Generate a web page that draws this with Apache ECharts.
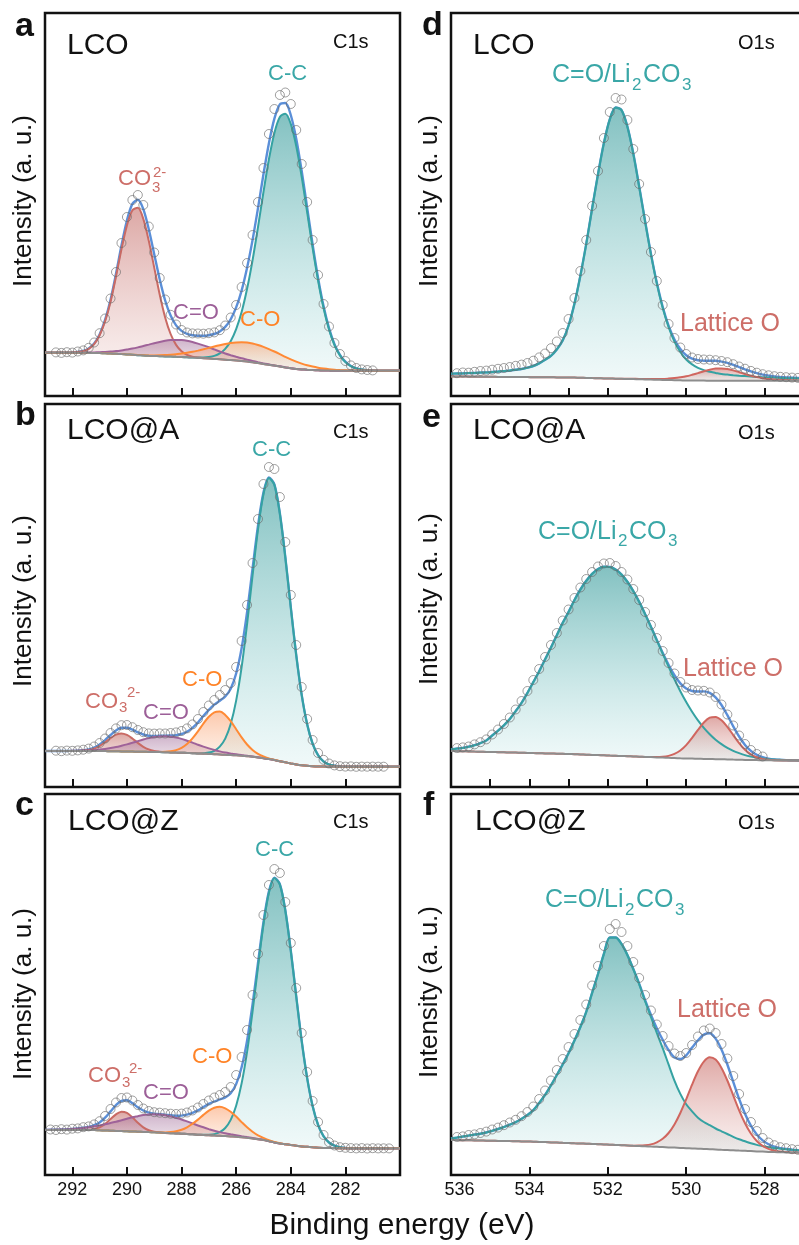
<!DOCTYPE html>
<html><head><meta charset="utf-8">
<script src="https://cdn.jsdelivr.net/npm/echarts@6/dist/echarts.min.js"></script>
<style>html,body{margin:0;padding:0;background:#fff;overflow:hidden}#c{width:860px;height:1245px}</style>
</head><body><div id="c"></div>
<script>
// ---------- x grids (binding energy, eV) ----------
const energyC = [293.0,292.8,292.6,292.4,292.2,292.0,291.8,291.6,291.4,291.2,291.0,290.8,290.6,290.4,290.2,290.0,289.8,289.6,289.4,289.2,289.0,288.8,288.6,288.4,288.2,288.0,287.8,287.6,287.4,287.2,287.0,286.8,286.6,286.4,286.2,286.0,285.8,285.6,285.4,285.2,285.0,284.8,284.6,284.4,284.2,284.0,283.8,283.6,283.4,283.2,283.0,282.8,282.6,282.4,282.2,282.0,281.8,281.6,281.4,281.2,281.0,280.8,280.6,280.4,280.2,280.0];
const energyO = [536.00,535.85,535.70,535.55,535.40,535.25,535.10,534.95,534.80,534.65,534.50,534.35,534.20,534.05,533.90,533.75,533.60,533.45,533.30,533.15,533.00,532.85,532.70,532.55,532.40,532.25,532.10,531.95,531.80,531.65,531.50,531.35,531.20,531.05,530.90,530.75,530.60,530.45,530.30,530.15,530.00,529.85,529.70,529.55,529.40,529.25,529.10,528.95,528.80,528.65,528.50,528.35,528.20,528.05,527.90,527.75,527.60,527.45,527.30,527.15,527.00];
const tickC = [292,290,288,286,284,282];
const tickO = [536,534,532,530,528];

// ---------- panel a : LCO C1s ----------
const aBg = [43.3,43.3,43.3,43.3,43.3,43.3, 43.3,43.2,43.1,43.0,42.9, 42.7,42.5,42.2,41.9,41.6, 41.2,40.8,40.5,40.2,40.0, 39.8,39.6,39.4,39.2,39.0, 38.7,38.4,38.1,37.8,37.5, 37.1,36.7,36.3,35.9,35.5, 35.0,34.4,33.7,32.9,32.0, 31.2,30.4,29.5,28.6,27.8, 27.1,26.6,26.2,25.9,25.7, 25.5,25.4, 25.3,25.3,25.3,25.3,25.3,25.3,25.3,25.3,25.3,25.3,25.3,25.3,25.3];
const aCO3 = [0,0,0,0,0,0, 0.7,1.7,4.1,8.9,17.8, 32,51.8,77.3,104.8,129, 144.6,147.4,136.6,115,88.4, 61.7,39,22.6,11.9,5.7, 2.5,1,0.3, 0,0,0,0,0,0,0,0,0,0, 0,0,0,0,0,0,0,0,0,0, 0,0,0,0,0,0,0,0,0,0, 0,0,0,0,0,0,0];
const aCeqO = [0,0,0,0,0, 0.1,0.15,0.24,0.4,0.6, 0.9,1.4,2.0,2.7,3.7, 4.9,6.2,7.8,9.5,11.2, 12.8,14.3,15.6,16.5,16.9, 16.9,16.5,15.6,14.3,12.8, 11.2,9.5,7.8,6.2,4.9, 3.7,2.7,2.0,1.4,0.9, 0.6,0.4,0.2,0.15,0.1, 0,0,0,0,0,0,0,0,0,0, 0,0,0,0,0,0,0,0,0,0, 0];
const aCO = [0,0,0,0,0,0,0,0,0,0, 0,0,0,0,0,0, 0.1,0.2,0.3,0.4,0.6, 0.9,1.3,1.9,2.6,3.5, 4.5,5.8,7.3,8.9,10.6, 12.4,14.1,15.7,17.1,18.1, 18.8,19,18.8,18.1,17.1, 15.7,14.1,12.4,10.6,8.9, 7.3,5.8,4.5,3.5,2.6, 1.9,1.3,0.9,0.6,0.4,0.2, 0,0,0,0,0,0,0,0,0];
const aCC = [0,0,0,0,0,0,0,0,0,0, 0,0,0,0,0,0,0,0,0,0, 0,0,0,0,0,0,0,0, 0.3,0.7,1.5, 3,5.9,10.9,18.8,31.3, 48.9,72.8,102,136,172, 205.5,232.7,249.6,253.7,244.3, 222.8,192.6,157.7,122.2,89.8, 62.5,41.2,25.7,15.3,8.6, 4.5,2.3,1.1,0.5,0.2, 0,0,0,0,0];
const aData = [null,null,43.6,43.1,43.8,43.4,44.5,45.6,48.2,53.5,62.8,77.5,97.5,124,153,179,196,201,191,169.5,143.5,118,96.5,81.2,71.5,66,63.5,62.6,62.5,62.3,62.8,63.6,65.8,70.5,78.5,91,109,133,161,194,228,262,287,301,303.5,292,266,232,194,156,121,92,69.5,53,42,35,30.6,28,26.6,26,25.6];

// ---------- panel b : LCO@A C1s ----------
const bBg = [36,36,36,36,36,36,36,36,36,36,36, 35.9,35.8,35.7,35.6,35.5, 35.4,35.3,35.2,35.1,35.0, 34.9,34.7,34.6,34.4,34.3, 34.0,33.8,33.5,33.3,33.0, 32.8,32.5,32.2,32.0,31.7, 31.3,30.8,30.3,29.6,28.8, 27.9,26.9,25.8,24.7,23.6, 22.6,21.8,21.2,20.8,20.5, 20.4, 20.3,20.3,20.3,20.3,20.3,20.3,20.3,20.3,20.3,20.3,20.3,20.3,20.3,20.3];
const bCO3 = [0,0,0,0,0,0, 0.1,0.4,1.0,2.4,5.0, 8.8,13.1,16.6,18,16.6, 13.1,8.8,5.0,2.4,1.0, 0.4,0.1, 0,0,0,0,0,0,0,0,0,0, 0,0,0,0,0,0,0,0,0,0, 0,0,0,0,0,0,0,0,0,0, 0,0,0,0,0,0,0,0,0,0, 0,0,0];
const bCeqO = [0,0,0,0, 0.07,0.13,0.2,0.4,0.6, 1.0,1.5,2.2,3.1,4.2, 5.6,7.1,8.8,10.6,12.3, 13.8,15.0,15.7,16,15.7, 15.0,13.8,12.3,10.6,8.8, 7.1,5.6,4.2,3.1,2.2, 1.5,1.0,0.6,0.4,0.2,0.13, 0,0,0,0,0,0,0,0,0,0, 0,0,0,0,0,0,0,0,0,0, 0,0,0,0,0,0];
const bCO = [0,0,0,0,0,0,0,0,0,0, 0,0,0,0,0,0,0,0,0,0, 0, 0.2,0.5,1.2,2.5,4.9, 9.0,14.8,22.1,30.1,37.2, 41.9,42.9,39.9,33.8,26.1, 18.3,11.7,6.8,3.6,1.7, 0.7,0.3, 0,0,0,0,0,0,0,0,0,0, 0,0,0,0,0,0,0,0,0,0, 0,0,0];
const bCC = [0,0,0,0,0,0,0,0,0,0, 0,0,0,0,0,0,0,0,0,0, 0,0,0,0,0,0,0,0,0, 0.5,1.4,3.4,7.8,16.2, 31,54.7,88.5,132,181, 228,264,281,275.4,247.9, 205.2,156.2,109.3,70.3,41.6, 22.6,11.3,5.2,2.2,0.9,0.3, 0,0,0,0,0,0,0,0,0,0,0];
const bData = [null,null,36.3,35.8,36.4,36.2,36.6,37.3,38.4,40.5,44,48.5,54,58.6,61.8,62,59.8,57,54.8,53.6,53.4,53.6,53.5,54,54.6,56,58.6,62.6,68,75,81.5,87,92,97,104,120,146,182,224,268,303,320,318,290,245,192,142,100,68,47,34,27.2,23.5,21.6,20.8,20.4,20.6,20.2,20.4,20.3,20.4,20.3,20.3];

// ---------- panel c : LCO@Z C1s ----------
const cBg = [45,45,45,45,45,45,45,45,45,45, 44.7,44.5,44.3,44.1,43.9, 43.7,43.5,43.3,43.1,42.9, 42.7,42.4,42.1,41.8,41.6, 41.3,41.0,40.7,40.3,40.0, 39.7,39.4,39.2,38.9,38.6, 38.3,37.8,37.2,36.6,35.8, 35.0,33.8,32.6,31.6,30.8, 30.0,29.3,28.6,28.2,27.7, 27.3,27.1,27.0,26.9,26.8, 26.7,26.7,26.7,26.7,26.7,26.7,26.7,26.7,26.7,26.7,26.7];
const cCO3 = [0,0,0,0,0,0,0, 0.1,0.3,1.1,3.0,6.6, 11.6,16.6,19.4,18.4,14.2, 8.9,4.6,1.9,0.6,0.2, 0,0,0,0,0,0,0,0,0,0, 0,0,0,0,0,0,0,0,0,0, 0,0,0,0,0,0,0,0,0,0, 0,0,0,0,0,0,0,0,0,0, 0,0,0,0];
const cCeqO = [0.1,0.2,0.3,0.5,0.7, 1.0,1.5,2.1,2.8,3.7, 4.8,6.2,7.7,9.2,10.9, 12.6,14.2,15.5,16.8,17.6, 18,18,17.6,16.8,15.5, 14.2,12.6,10.9,9.2,7.7, 6.2,4.8,3.7,2.8,2.1, 1.5,1.0,0.7,0.5,0.3, 0.2,0.1, 0,0,0,0,0,0,0,0,0,0, 0,0,0,0,0,0,0,0,0,0, 0,0,0,0];
const cCO = [0,0,0,0,0,0,0,0,0,0, 0,0,0,0,0,0,0,0,0,0, 0, 0.2,0.5,1.1,2.1,3.9, 6.7,10.5,15.1,20.1,24.6, 27.8,29,27.8,24.6,20.1, 15.1,10.5,6.7,3.9,2.1, 1.1,0.5,0.2, 0,0,0,0,0,0,0,0,0,0, 0,0,0,0,0,0,0,0,0,0, 0,0];
const cCC = [0,0,0,0,0,0,0,0,0,0, 0,0,0,0,0,0,0,0,0,0, 0,0,0,0,0,0,0,0,0, 0.2,0.6,1.5,3.6,8.1, 16.5,31,53.8,86.0,126.8, 172.2,215.5,248.6,264.3,259, 233.9,194.6,149.3,105.5,68.7, 41.3,22.8,11.7,5.5,2.4, 0.9,0.3, 0,0,0,0,0,0,0,0,0,0];
const cData = [null,45.5,45.0,45.8,45.4,46.3,46.6,47.8,48.6,50.6,53.8,59,66,72.5,77,77.5,74.5,70,66.5,64,62.8,62.3,61.8,61.3,61,61.4,62.5,64.5,67.5,71,74.5,77.5,80,83,88,100,118,145,180,221,260,290,306,302,273,232,187,142,103,74,53,40,32.8,29.5,27.8,27.2,26.9,26.6,26.9,26.5,26.8,26.6,26.7,26.6];

// ---------- panel d : LCO O1s ----------
const dBg = [19.5,19.5,19.4,19.4,19.3, 19.3,19.2,19.2,19.1,19.1, 19.0,19.0,18.9,18.9,18.8, 18.8,18.7,18.7,18.6,18.6, 18.5,18.4,18.2,18.1,17.9, 17.8,17.6,17.5,17.3,17.2, 17.0,16.9,16.7,16.6,16.4, 16.3,16.1,16.0,15.8,15.7, 15.5,15.5,15.4,15.4,15.3, 15.3,15.2,15.2,15.2,15.2, 15.2,15.2,15.2,15.2,15.2, 15.2,15.2,15.2,15.2,15.2, 15.2];
const dMain = [2.8,3.0,3.2,3.5,3.7,4.1,4.4,4.8,5.3,5.8, 6.4,7.2,8.1,9.4,11.2,13.8,17.5,21.5,28,37, 52,74,102,134,169.6,204,235.3,259.1,271.2,268.7, 252.2,225.5,192.6,158.2,125.4,96.3,72.1,53,38.6,28.3, 21,16.1,12.8,10.5,8.9,7.8,6.8,6.2,5.6,5.1, 4.7,4.3,3.9,3.6,3.4,3.1,2.9,2.7,2.6,2.4,2.3];
const dLat = [0,0,0,0,0,0,0,0,0,0, 0,0,0,0,0,0,0,0,0,0, 0,0,0,0,0,0,0,0,0,0, 0.25,0.3,0.4,0.5,0.6,0.8,1.0,1.4,2.1,3.0, 4.2,5.7,7.5,9.4,11,12.1,12.4,11.8,10.4,8.6, 6.8,5.1,3.7,2.6,1.8,1.2,0.9,0.7,0.5,0.4,0.35];
const dData = [null,22.8,23.5,23.3,24.2,25,25.4,26.3,27.2,28,29,30.2,31.4,33,35.3,38.6,42.5,47.8,54.5,63,77,98,125,156,190,225,258,284,298,296.5,276,247,212,177,144,115,91,72,58,48.5,42,38.5,37,36.5,36.3,35.8,35,33.8,31.8,29.5,27.3,25.1,23.3,21.8,20.7,19.8,19.2,18.8,18.4,18.1,17.9];

// ---------- panel e : LCO@A O1s ----------
const eBg = [36.0,35.9,35.7,35.6,35.4, 35.3,35.1,35.0,34.8,34.7, 34.5,34.4,34.2,34.1,33.9, 33.8,33.6,33.5,33.3,33.2, 33.0,32.8,32.6,32.3,32.1, 31.9,31.7,31.4,31.2,31.0, 30.8,30.5,30.3,30.1,29.9, 29.6,29.4,29.2,29.0,28.7, 28.5,28.4,28.2,28.1,28.0, 27.8,27.7,27.6,27.4,27.3, 27.1,27.0,26.9,26.7,26.7, 26.6,26.6,26.5,26.4,26.4, 26.3];
const eMain = [1.7,2.5,3.4,4.7,6.4,8.6,11.4,16.5,21.5,27, 33.5,41.5,50,60,71,82,94,106,118.5,131, 142.1,154.2,164.9,173.9,181.1,186.1,188.6,188.7,186.3,181.5, 174.5,165.5,154.9,143,130.4,117.2,104,91.1,78.7,67.1, 56.5,46.9,38.4,31.1,24.8,19.5,15.2,11.6,8.8,6.6, 4.8,3.5,2.5,1.8,1.2,0.8,0.6,0.4,0.3,0.2,0.1];
const eLat = [0,0,0,0,0,0,0,0,0,0, 0,0,0,0,0,0,0,0,0,0, 0,0,0,0,0,0,0,0,0,0, 0,0,0,0,0, 0.3,0.8,1.95,4.1,7.8, 13.4,20.7,28.9,36.4,41.3, 42.3,39.1,32.6,24.5,16.6, 10.2,5.6,2.8,1.3,0.5,0.2, 0,0,0,0,0];
const eData = [null,38.9,39.6,40.5,42.6,44.8,47.6,52.5,57.5,63,69.5,77.5,86,96,107,118,130,142,154,166.5,177.5,189,199.5,208,215,220.5,223.5,224,221,215,207.5,198,187,175,162,149,136,124,113.5,105,99.5,97,96.5,96.2,94.5,90,82.5,72.5,61.5,51.5,43,37,33,30.5];

// ---------- panel f : LCO@Z O1s ----------
const fBg = [35.0,34.9,34.8,34.7,34.6, 34.5,34.3,34.2,34.1,34.0, 33.9,33.8,33.6,33.5,33.3, 33.1,32.9,32.6,32.4,32.2, 32.0,31.7,31.5,31.3,31.1, 30.8,30.6,30.3,30.0,29.8, 29.5,29.2,29.0,28.7,28.4, 28.2,27.9,27.6,27.4,27.1, 26.8,26.6,26.3,26.0,25.8, 25.5,25.2,25.0,24.7,24.4, 24.2,23.9,23.6,23.4,23.1, 22.9,22.8,22.6,22.5,22.4, 22.3];
const fMain = [1.5,2.5,3.6,4.7,5.8, 6.8,8.2,10,11.9,14, 16.5,19,22.6,26.5,31.5, 39,47.2,57.1,67.6,78.4, 89.9,102.8,116.5,131.8,151, 170.2,190.5,207.2,207.5,201.3, 190.5,176.8,162,145.3,129.6, 114,99,83,67,54, 44,37,31,27,24, 21,18.5,16,13.5,11.3, 9.5,7.8,6.5,5.5,4.7, 4.1,3.5,3.1,2.7,2.4, 2.1];
const fLat = [0,0,0,0,0,0,0,0,0,0, 0,0,0,0,0,0,0,0,0,0, 0,0,0,0,0,0,0,0,0,0, 0, 0.15,0.4,1.0,2.2,4.5, 8.3,14.4,23.2,34.9,48.9, 63.8,77.4,87.4,91.9,89.9, 81.9,69.5,54.9,40.3,27.6, 17.6,10.4,5.75,3.0,1.4, 0.6,0.3,0.1,0,0];
const fData = [null,38,38.6,40,40.6,42,43.4,45.5,47.4,49.8,52.5,55.2,58.8,63,68.5,76,84.5,94.5,105,116,128,141,155,170.5,189.5,209,229,246,251,243,229,213,197,180,164.5,150.5,139,129,121.5,119,122,130,138.5,144.5,146.5,142,131,116.5,99,81,66,53,44,37,32.5,29.8,27.8,26.8,25.8,25.2,24.8];

// ---------- styling ----------
const FONT = "'Liberation Sans', Arial, Helvetica, sans-serif";
const INK = '#111111';
const COL = {
  cc:   {line:'#35a2a2', top:'rgba(55,155,155,0.62)',  bot:'rgba(110,195,195,0.10)'},
  main: {line:'#35a2a2', top:'rgba(55,155,155,0.62)',  bot:'rgba(110,195,195,0.10)'},
  co3:  {line:'#c96a64', top:'rgba(195,105,100,0.58)', bot:'rgba(215,150,145,0.14)'},
  lat:  {line:'#d0665f', top:'rgba(200,105,100,0.58)', bot:'rgba(215,150,145,0.14)'},
  ceqo: {line:'#9f6299', top:'rgba(150,90,140,0.45)',  bot:'rgba(170,120,160,0.12)'},
  co:   {line:'#ff8a35', top:'rgba(250,150,95,0.52)',  bot:'rgba(250,185,145,0.14)'}
};
const ENV = '#5b8fd8', BGL = '#8d8d8d', DOT = 'rgba(105,105,105,0.8)';
const TEAL = '#3aa7a7', RED = '#cd6e68', PURP = '#9c5f98', ORG = '#ff8326';

const ROW_TOP = [13, 404, 794], ROW_H = [383, 383, 381];
const COL_LEFT = [45, 451], COL_W = [355, 392];

const panels = [
  {col:0,row:0,x:energyC,bg:aBg,pts:aData,comps:[['cc',aCC],['co3',aCO3],['ceqo',aCeqO],['co',aCO]]},
  {col:0,row:1,x:energyC,bg:bBg,pts:bData,comps:[['cc',bCC],['co3',bCO3],['ceqo',bCeqO],['co',bCO]]},
  {col:0,row:2,x:energyC,bg:cBg,pts:cData,comps:[['cc',cCC],['co3',cCO3],['ceqo',cCeqO],['co',cCO]]},
  {col:1,row:0,x:energyO,bg:dBg,pts:dData,comps:[['main',dMain],['lat',dLat]]},
  {col:1,row:1,x:energyO,bg:eBg,pts:eData,comps:[['main',eMain],['lat',eLat]]},
  {col:1,row:2,x:energyO,bg:fBg,pts:fData,comps:[['main',fMain],['lat',fLat]]}
];

// line data are given as [intensity, energy] so that the stacked dimension is the intensity
function linePairs(xs, ys){ const out=[]; for(let i=0;i<ys.length;i++){ out.push([ys[i], xs[i]]); } return out; }
function ptPairs(xs, ys){ const out=[]; for(let i=0;i<ys.length;i++){ if(ys[i]!==null && ys[i]!==undefined) out.push([xs[i], ys[i]]); } return out; }
function grad(top, bot){ return new echarts.graphic.LinearGradient(0,0,0,1,[{offset:0,color:top},{offset:1,color:bot}]); }

const grid=[], xAxis=[], yAxis=[], series=[];
panels.forEach((p,k)=>{
  grid.push({left:COL_LEFT[p.col], top:ROW_TOP[p.row], width:COL_W[p.col], height:ROW_H[p.row], show:true, borderColor:INK, borderWidth:2.5, backgroundColor:'transparent'});
  const isC = p.col===0;
  const labels = isC ? tickC : tickO;
  xAxis.push({
    type:'value', gridIndex:k, inverse:true,
    min: isC ? 280 : 526, max: isC ? 293 : 536,
    interval: isC ? 2 : (p.row===2 ? 2 : 1),
    axisLine:{show:false}, splitLine:{show:false},
    axisTick:{show:true, inside:true, length:8, lineStyle:{color:INK, width:2}},
    axisLabel:{show:p.row===2, margin:6, fontSize:18, color:INK, fontFamily:FONT,
      formatter:(v)=> labels.includes(v) ? ((!isC && v===536) ? '{s|536}' : String(v)) : '',
      rich:{s:{padding:[0,0,0,17], fontSize:18, color:INK, fontFamily:FONT}}}
  });
  yAxis.push({type:'value', gridIndex:k, min:0, max:ROW_H[p.row], show:false});
  const base = {type:'line', xAxisIndex:k, yAxisIndex:k, encode:{x:1, y:0}, smooth:0.3, showSymbol:false, symbol:'none', silent:true, animation:false};
  const hidden = {lineStyle:{opacity:0, width:1}};
  // envelope = background + all components (drawn beneath the component lines)
  const eid = 'env'+k;
  series.push(Object.assign({}, base, hidden, {stack:eid, data:linePairs(p.x,p.bg), z:1}));
  p.comps.forEach(([key, arr], ci)=>{
    const last = ci===p.comps.length-1;
    series.push(Object.assign({}, base, last ? {lineStyle:{color:ENV, width:2.4}, z:2} : Object.assign({}, hidden, {z:1}), {stack:eid, data:linePairs(p.x,arr)}));
  });
  // component fills, each stacked on the background
  p.comps.forEach(([key, arr])=>{
    const sid = 'p'+k+key;
    series.push(Object.assign({}, base, hidden, {stack:sid, data:linePairs(p.x,p.bg), z:1}));
    series.push(Object.assign({}, base, {stack:sid, data:linePairs(p.x,arr), z:3,
      lineStyle:{color:COL[key].line, width:2}, areaStyle:{color:grad(COL[key].top, COL[key].bot), opacity:1}}));
  });
  // background line
  series.push(Object.assign({}, base, {data:linePairs(p.x,p.bg), z:3, lineStyle:{color:BGL, width:2}}));
  // measured points
  series.push({type:'scatter', xAxisIndex:k, yAxisIndex:k, silent:true, animation:false, z:4,
    symbol:'circle', symbolSize:9, data:ptPairs(p.x,p.pts),
    itemStyle:{color:'rgba(0,0,0,0)', borderColor:DOT, borderWidth:1}});
});

// ---------- texts ----------
function T(x,y,text,size,color,opt){
  opt = opt||{};
  const al = opt.align||'left';
  const el = {type:'text', x:x, y:y, silent:true, z:100,
    style:{text:text, fill:color||INK, font:(opt.bold?'bold ':'')+size+'px '+FONT,
      align:al, verticalAlign:'middle', textAlign:al, textVerticalAlign:'middle'}};
  if(opt.rot) el.rotation = opt.rot;
  return el;
}
const B = {bold:true};
const els = [
  T(15,27,'a',34,INK,B), T(15,416,'b',34,INK,B), T(15,806,'c',34,INK,B),
  T(422,26,'d',34,INK,B), T(422,418,'e',34,INK,B), T(423,806,'f',34,INK,B),
  T(67,46,'LCO',30), T(67,431,'LCO@A',30), T(68,822,'LCO@Z',30),
  T(473,46,'LCO',30), T(473,431,'LCO@A',30), T(475,822,'LCO@Z',30),
  T(333,42.5,'C1s',20), T(333,432.5,'C1s',20), T(333,822.5,'C1s',20),
  T(738,43,'O1s',20), T(738,433,'O1s',20), T(738,823,'O1s',20),
  // panel a
  T(268,74,'C-C',22,TEAL), T(118,179,'CO',22,RED), T(152,187.5,'3',15,RED), T(153,172.5,'2-',15,RED),
  T(173,312.5,'C=O',22,PURP), T(240,320,'C-O',22,ORG),
  // panel b
  T(252,450,'C-C',22,TEAL), T(182,680,'C-O',22,ORG), T(85,701.7,'CO',22,RED), T(119,708.3,'3',15,RED), T(127,692.5,'2-',15,RED),
  T(143,713.3,'C=O',22,PURP),
  // panel c
  T(255,850,'C-C',22,TEAL), T(192,1056.7,'C-O',22,ORG), T(88,1075.8,'CO',22,RED), T(122,1083.3,'3',15,RED), T(129,1069,'2-',15,RED),
  T(143,1093.3,'C=O',22,PURP),
  // panel d
  T(552,75,'C=O/Li',25,TEAL), T(632,85,'2',17,TEAL), T(643,75,'CO',25,TEAL), T(682,85,'3',17,TEAL),
  T(680,323.8,'Lattice O',25,RED),
  // panel e
  T(538,531.7,'C=O/Li',25,TEAL), T(618,541.7,'2',17,TEAL), T(629,531.7,'CO',25,TEAL), T(668,541.7,'3',17,TEAL),
  T(683,669.5,'Lattice O',25,RED),
  // panel f
  T(545,900,'C=O/Li',25,TEAL), T(625,910,'2',17,TEAL), T(636,900,'CO',25,TEAL), T(675,910,'3',17,TEAL),
  T(677,1010.5,'Lattice O',25,RED),
  // axis titles
  T(24,201,'Intensity (a. u.)',26,INK,{align:'center',rot:Math.PI/2}),
  T(24,601,'Intensity (a. u.)',26,INK,{align:'center',rot:Math.PI/2}),
  T(24,994,'Intensity (a. u.)',26,INK,{align:'center',rot:Math.PI/2}),
  T(430,201,'Intensity (a. u.)',26,INK,{align:'center',rot:Math.PI/2}),
  T(430,599,'Intensity (a. u.)',26,INK,{align:'center',rot:Math.PI/2}),
  T(430,992,'Intensity (a. u.)',26,INK,{align:'center',rot:Math.PI/2}),
  T(402,1226,'Binding energy (eV)',30,INK,{align:'center'})
];

const chart = echarts.init(document.getElementById('c'), null, {renderer:'canvas', width:860, height:1245});
chart.setOption({animation:false, backgroundColor:'#ffffff', grid, xAxis, yAxis, series, graphic:{elements:els}});
</script>
</body></html>
